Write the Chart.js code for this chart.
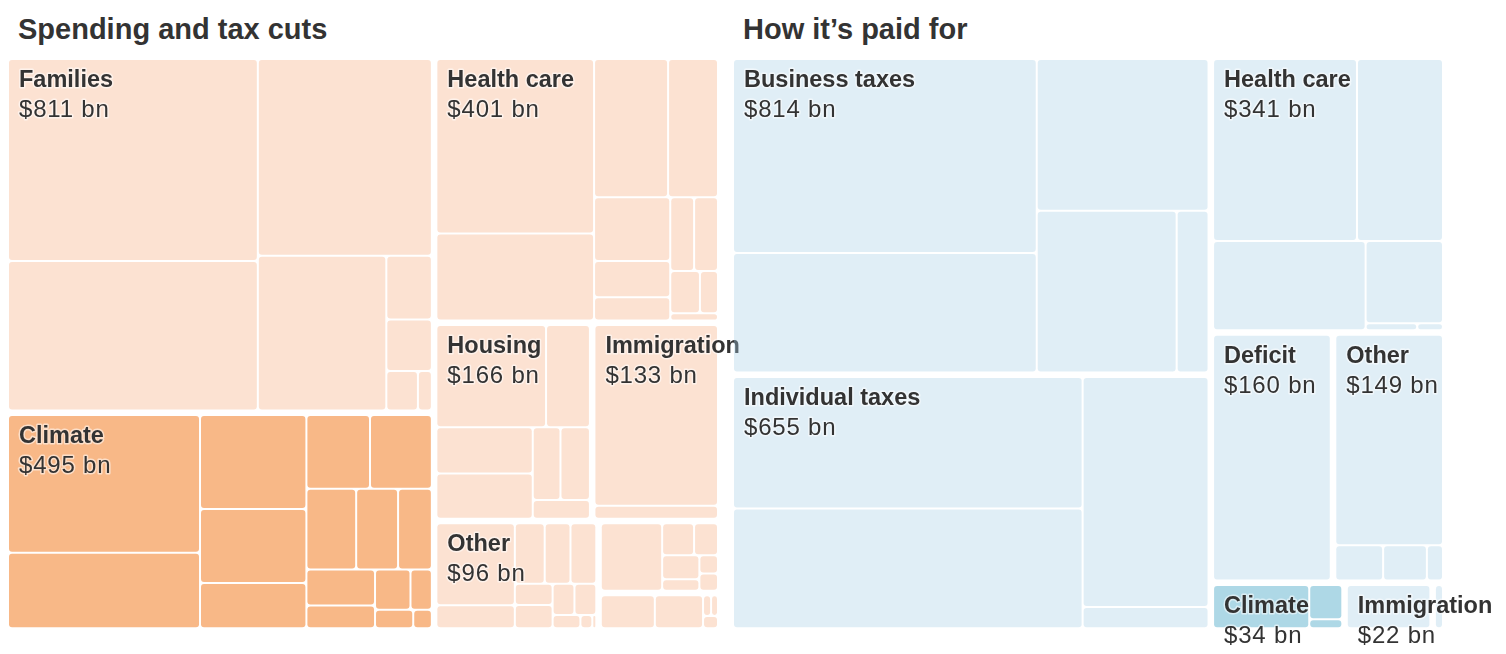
<!DOCTYPE html>
<html>
<head>
<meta charset="utf-8">
<script src="https://cdn.jsdelivr.net/npm/chart.js@4"></script>
<style>
  body { margin: 0; background: #fff; width: 1506px; height: 654px; position: relative; overflow: hidden; font-family: "Liberation Sans", Arial, sans-serif; }
  h2 { position: absolute; margin: 0; top: 15px; font-size: 29px; line-height: 29px; font-weight: bold; color: #333; }
  canvas { position: absolute; top: 0; }
</style>
</head>
<body>
<h2 style="left:18px">Spending and tax cuts</h2>
<h2 style="left:743px">How it’s paid for</h2>
<canvas id="spending" width="760" height="654" style="left:0"></canvas>
<canvas id="paidFor" width="781" height="654" style="left:725px"></canvas>
<script>
// --- spending side ($ bn), leaves
const spendGroups = ['Families', 'Climate', 'Health care', 'Housing', 'Immigration', 'Other'];
const spendTotals = [811, 495, 401, 166, 133, 96];
const families = [274.6, 203.6, 186.3, 108.4, 15.8, 12.8, 6.8, 3.0];
const climateSpend = [145.2, 79.5, 54.9, 43.2, 26.4, 25.7, 25.0, 22.1, 18.6, 15.0, 13.5, 8.6, 7.8, 4.7, 3.9, 1.9];
const healthSpend = [151.2, 75.6, 56.2, 37.9, 26.8, 15.1, 9.8, 9.7, 9.7, 6.9, 4.2, 1.9];
const housing = [62.8, 25.1, 25.0, 24.4, 11.3, 12.0, 6.0];
const immigrationSpend = [125.9, 9.1];
const otherSpend = [
  [36.7, 10.3, 10.3, 8.9, 8.9, 4.6, 5.0, 3.9, 3.9, 2.1, 0.9, 0.3],
  [24.4, 6.0, 4.5, 5.3, 2.5, 2.0, 1.9],
  [11.2, 10.0, 1.05, 0.9, 1.15]
];

// --- paid-for side ($ bn)
const payGroups = ['Business taxes', 'Individual taxes', 'Health care', 'Deficit', 'Other', 'Climate', 'Immigration'];
const payTotals = [814, 655, 341, 160, 149, 34, 22];
const businessTaxes = [320.6, 197.7, 141.9, 123.2, 28.1];
const individualTaxes = [251.5, 228.5, 158.3, 14.6];
const healthPay = [144.4, 86.3, 74.9, 35.0, 2.0, 1.0];
const deficit = [162.6];
const otherPay = [127.9, 9.5, 8.7, 3.2];
const climatePay = [25.3, 6.9, 1.8];
const immigrationPay = [[22.4], [3.2]];

const highlight = 'Climate';
const phi = (1 + Math.sqrt(5)) / 2;
const outerGap = 6.5, leafGap = 2;

function toNode(v) {
  if (Array.isArray(v)) {
    const children = v.map(toNode);
    return {
      children,
      value: children.reduce((s, c) => s + c.value, 0),
      pad: children.some(c => c.children) ? outerGap : leafGap
    };
  }
  return { value: v };
}

// same squarify as d3 (golden ratio), no sorting
function squarify(nodes, x0, y0, x1, y1) {
  let value = nodes.reduce((s, n) => s + n.value, 0);
  let i0 = 0, i1 = 0;
  const n = nodes.length;
  while (i0 < n) {
    const dx = x1 - x0, dy = y1 - y0;
    let sumValue = nodes[i1++].value;
    let minValue = sumValue, maxValue = sumValue;
    const alpha = Math.max(dy / dx, dx / dy) / (value * phi);
    let beta = sumValue * sumValue * alpha;
    let minRatio = Math.max(maxValue / beta, beta / minValue);
    for (; i1 < n; ++i1) {
      const v = nodes[i1].value;
      sumValue += v;
      if (v < minValue) minValue = v;
      if (v > maxValue) maxValue = v;
      beta = sumValue * sumValue * alpha;
      const newRatio = Math.max(maxValue / beta, beta / minValue);
      if (newRatio > minRatio) { sumValue -= v; break; }
      minRatio = newRatio;
    }
    const row = nodes.slice(i0, i1);
    if (dx < dy) {
      const yb = i1 < n ? y0 + dy * sumValue / value : y1;
      let x = x0;
      row.forEach(nd => { const w = dx * nd.value / sumValue; nd.rect = [x, y0, x + w, yb]; x += w; });
      y0 = yb;
    } else {
      const xb = i1 < n ? x0 + dx * sumValue / value : x1;
      let y = y0;
      row.forEach(nd => { const h = dy * nd.value / sumValue; nd.rect = [x0, y, xb, y + h]; y += h; });
      x0 = xb;
    }
    value -= sumValue;
    i0 = i1;
  }
}

// d3-style inner padding: gaps between siblings, flush on the outside
function place(node, box) {
  const p = node.pad / 2;
  squarify(node.children, box[0] - p, box[1] - p, box[2] + p, box[3] + p);
  node.children.forEach(c => {
    c.box = [c.rect[0] + p, c.rect[1] + p, c.rect[2] - p, c.rect[3] - p];
    if (c.children) place(c, c.box);
  });
}

function leavesOf(nd, out) {
  if (nd.children) nd.children.forEach(c => leavesOf(c, out));
  else out.push(nd);
  return out;
}

function treemapPlugin(names, totals, values, light, dark) {
  return {
    id: 'treemap',
    afterDatasetsDraw(chart) {
      const ctx = chart.ctx;
      const xs = chart.scales.x, ys = chart.scales.y;
      const box = [xs.getPixelForValue(0), ys.getPixelForValue(1), xs.getPixelForValue(1), ys.getPixelForValue(0)];
      const groups = names.map((name, i) => {
        const g = toNode(values[i]);
        g.name = name; g.total = totals[i];
        g.color = name === highlight ? dark : light;
        return g;
      });
      const root = { children: groups, pad: outerGap };
      place(root, box);

      ctx.save();
      groups.forEach(g => {
        ctx.fillStyle = g.color;
        leavesOf(g, []).forEach(l => {
          const [a, b, c, d] = l.box;
          const w = c - a, h = d - b;
          if (w <= 0 || h <= 0) return;
          ctx.beginPath();
          ctx.roundRect(a, b, w, h, Math.min(3, w / 2, h / 2));
          ctx.fill();
        });
      });

      ctx.textBaseline = 'alphabetic';
      ctx.lineJoin = 'round';
      groups.forEach(g => {
        const x = g.box[0] + 10, y = g.box[1];
        ctx.strokeStyle = 'rgba(255,255,255,0.55)';
        ctx.lineWidth = 3;
        ctx.fillStyle = '#333';
        ctx.font = 'bold 23.5px "Liberation Sans"';
        ctx.letterSpacing = '0px';
        ctx.strokeText(g.name, x, y + 27);
        ctx.fillText(g.name, x, y + 27);
        ctx.font = '24px "Liberation Sans"';
        ctx.letterSpacing = '0.8px';
        const t = '$' + g.total + ' bn';
        ctx.strokeText(t, x, y + 57);
        ctx.fillText(t, x, y + 57);
      });
      ctx.restore();
    }
  };
}

function makeChart(id, pad, plugin) {
  return new Chart(document.getElementById(id), {
    type: 'scatter',
    data: { datasets: [] },
    options: {
      responsive: false,
      animation: false,
      events: [],
      layout: { padding: pad },
      scales: {
        x: { type: 'linear', min: 0, max: 1, display: false },
        y: { type: 'linear', min: 0, max: 1, display: false }
      },
      plugins: { legend: { display: false }, tooltip: { enabled: false } }
    },
    plugins: [plugin]
  });
}

makeChart('spending', { left: 9, right: 43, top: 60, bottom: 26.75 },
  treemapPlugin(spendGroups, spendTotals,
    [families, climateSpend, healthSpend, housing, immigrationSpend, otherSpend],
    '#fce2d2', '#f8b887'));

// translucent fills, so the spilled "Immigration" label shows through like the original
makeChart('paidFor', { left: 9, right: 64, top: 60, bottom: 26.75 },
  treemapPlugin(payGroups, payTotals,
    [businessTaxes, individualTaxes, healthPay, deficit, otherPay, climatePay, immigrationPay],
    'rgba(166,206,229,0.35)', 'rgba(24,144,184,0.35)'));
</script>
</body>
</html>
